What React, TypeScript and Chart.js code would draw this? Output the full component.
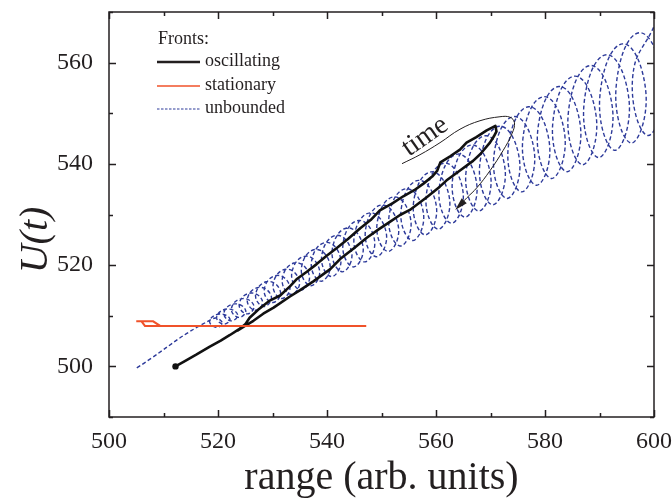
import React, { useEffect, useRef } from 'react';
import { Chart, registerables } from 'chart.js';

Chart.register(...registerables);

const FONT = "'Liberation Serif', 'Times New Roman', Times, serif";
const INK = '#231f20';
const BLUE = '#2d3a9a';
const ORANGE = '#f0522a';

// axis ticks
const xMajorTicks = [500, 520, 540, 560, 580, 600];
const xMinorTicks = [510, 530, 550, 570, 590];
const yMajorTicks = [500, 520, 540, 560];
const yMinorTicks = [490, 510, 530, 550, 570];

const xTitle = 'range (arb. units)';
const yTitle = 'U(t)';
const legendTitle = 'Fronts:';
const seriesNames = ['oscillating', 'stationary', 'unbounded'];
const timeText = 'time';
const timeAt = [558.0, 545.4];

// oscillating front (black)
const oscX = [512.2, 514.0, 516.0, 518.5, 520.5, 522.2, 523.8, 525.0, 525.8, 527.6, 529.5, 531.4, 533.2, 534.4, 536.3, 538.1, 540.0, 541.8, 543.9, 546.1, 548.0, 549.7, 552.0, 554.0, 556.0, 557.7, 559.3, 560.2, 560.8, 562.6, 564.4, 565.6, 567.4, 569.3, 570.9, 571.1, 570.6, 569.9, 568.1, 566.8, 564.4, 561.9, 560.7, 558.3, 555.2, 553.4, 551.6, 549.4, 547.3, 545.0, 542.4, 540.6, 537.5, 535.0, 533.2, 530.2, 528.3, 526.5, 524.8, 523.5];
const oscY = [500.0, 501.1, 502.3, 503.9, 505.1, 506.2, 507.3, 508.3, 509.6, 511.4, 513.0, 514.0, 515.8, 517.2, 518.7, 520.2, 521.9, 523.4, 525.2, 527.3, 528.9, 530.8, 532.2, 533.6, 534.8, 536.1, 537.5, 538.6, 540.3, 541.5, 542.8, 544.2, 545.3, 546.6, 547.5, 546.4, 545.4, 544.2, 541.9, 540.6, 538.7, 536.7, 535.5, 533.4, 530.9, 529.9, 528.6, 527.0, 525.4, 523.4, 521.2, 519.2, 516.8, 515.0, 513.8, 511.6, 510.4, 509.0, 507.9, 507.0];

// stationary front (orange)
const statX = [505.0, 508.1, 509.4, 547.2, 547.2, 506.0, 506.6, 509.4];
const statY = [508.9, 508.9, 508.0, 508.0, null, 508.85, 508.0, 508.0];

// unbounded front (blue dashed): per loop top, right, bottom, left
const unbX = [505.1,
  519.00, 520.82, 519.65, 518.48,
  520.30, 522.19, 520.98, 519.76,
  521.65, 523.61, 522.35, 521.09,
  523.05, 525.08, 523.78, 522.47,
  524.50, 526.60, 525.25, 523.90,
  526.00, 528.17, 526.78, 525.38,
  527.55, 529.79, 528.35, 526.91,
  529.15, 531.46, 529.98, 528.49,
  530.80, 533.18, 531.65, 530.12,
  532.50, 534.95, 533.38, 531.80,
  534.25, 536.77, 535.15, 533.53,
  536.05, 538.64, 536.98, 535.31,
  537.90, 540.56, 538.85, 537.14,
  539.80, 542.53, 540.78, 539.02,
  541.75, 544.55, 542.75, 540.95,
  543.75, 546.62, 544.78, 542.93,
  545.80, 548.74, 546.85, 544.96,
  547.90, 550.91, 548.98, 547.04,
  550.05, 553.13, 551.15, 549.17,
  552.25, 555.40, 553.38, 551.35,
  554.50, 557.72, 555.65, 553.58,
  556.80, 560.09, 557.98, 555.86,
  559.15, 562.51, 560.35, 558.19,
  561.55, 564.98, 562.78, 560.57,
  564.00, 567.50, 565.25, 563.00,
  566.50, 570.07, 567.78, 565.48,
  569.05, 572.69, 570.35, 568.01,
  571.65, 575.36, 572.98, 570.59,
  574.30, 578.08, 575.65, 573.22,
  577.00, 580.85, 578.38, 575.90,
  579.75, 583.67, 581.15, 578.63,
  582.55, 586.54, 583.98, 581.41,
  585.40, 589.46, 586.85, 584.24,
  588.30, 592.43, 589.78, 587.12,
  591.25, 595.45, 592.75, 590.05,
  594.25, 598.52, 595.78, 593.03,
  597.30, 601.64, 598.85, 596.06,
  600.40];
const unbY = [499.7,
  509.40, 508.60, 507.71, 508.99,
  510.34, 509.38, 508.34, 509.79,
  511.32, 510.20, 508.99, 510.62,
  512.34, 511.05, 509.67, 511.48,
  513.39, 511.93, 510.37, 512.38,
  514.48, 512.83, 511.09, 513.30,
  515.60, 513.77, 511.84, 514.25,
  516.76, 514.74, 512.61, 515.23,
  517.96, 515.74, 513.41, 516.25,
  519.19, 516.76, 514.23, 517.29,
  520.46, 517.82, 515.07, 518.36,
  521.76, 518.91, 515.94, 519.46,
  523.10, 520.03, 516.83, 520.60,
  524.48, 521.17, 517.74, 521.76,
  525.89, 522.35, 518.68, 522.95,
  527.34, 523.56, 519.65, 524.17,
  528.82, 524.80, 520.64, 525.43,
  530.33, 526.06, 521.66, 526.71,
  531.88, 527.36, 522.71, 528.02,
  533.47, 528.69, 523.78, 529.36,
  535.09, 530.05, 524.87, 530.74,
  536.74, 531.43, 525.98, 532.14,
  538.43, 532.85, 527.12, 533.57,
  540.16, 534.30, 528.29, 535.03,
  541.93, 535.78, 529.48, 536.53,
  543.73, 537.28, 530.69, 538.05,
  545.56, 538.82, 531.92, 539.60,
  547.43, 540.39, 533.18, 541.18,
  549.34, 541.99, 534.47, 542.80,
  551.29, 543.61, 535.78, 544.44,
  553.27, 545.27, 537.11, 546.11,
  555.28, 546.96, 538.46, 547.81,
  557.33, 548.68, 539.84, 549.55,
  559.42, 550.42, 541.25, 551.31,
  561.55, 552.20, 542.68, 553.10,
  563.71, 554.01, 544.13, 554.92,
  565.90, 555.85, 545.60, 556.78,
  568.13];

// "time" arrow arc (annotation)
const arcX = [553.76, 557.06, 560.73, 564.40, 568.07, 571.74, 573.58, 574.40, 573.94, 572.29, 569.91, 567.52, 565.69, 563.9];
const arcY = [540.04, 541.81, 544.18, 546.84, 548.52, 549.31, 549.21, 548.13, 545.96, 542.60, 538.66, 535.31, 533.33, 531.3];

const toPts = (xs: number[], ys: (number | null)[]) => xs.map((x, i) => ({ x, y: ys[i] }));

const decorPlugin = {
  id: 'decor',
  afterDatasetsDraw(chart: any) {
    const { ctx, scales } = chart;
    const xs = scales.x, ys = scales.y;
    const n = arcX.length;
    const px = xs.getPixelForValue(arcX[n - 1]);
    const py = ys.getPixelForValue(arcY[n - 1]);
    const qx = xs.getPixelForValue(arcX[n - 3]);
    const qy = ys.getPixelForValue(arcY[n - 3]);
    const ang = Math.atan2(py - qy, px - qx);
    ctx.save();
    ctx.fillStyle = INK;
    ctx.translate(px, py);
    ctx.rotate(ang);
    ctx.beginPath();
    ctx.moveTo(3, 0);
    ctx.lineTo(-10, -3.5);
    ctx.lineTo(-10, 3.5);
    ctx.closePath();
    ctx.fill();
    ctx.restore();
    ctx.save();
    ctx.translate(xs.getPixelForValue(timeAt[0]), ys.getPixelForValue(timeAt[1]));
    ctx.rotate(-35 * Math.PI / 180);
    ctx.font = `28px ${FONT}`;
    ctx.fillStyle = INK;
    ctx.textAlign = 'center';
    ctx.textBaseline = 'middle';
    ctx.fillText(timeText, 0, 0);
    ctx.restore();
  },
  afterDraw(chart: any) {
    const { ctx, chartArea: a, scales } = chart;
    const xs = scales.x, ys = scales.y;
    ctx.save();
    ctx.strokeStyle = INK;
    ctx.lineWidth = 1.5;
    ctx.strokeRect(a.left, a.top, a.right - a.left, a.bottom - a.top);
    ctx.beginPath();
    const tx = (v: number, len: number) => {
      const p = Math.round(xs.getPixelForValue(v)) + 0.5;
      ctx.moveTo(p, a.bottom); ctx.lineTo(p, a.bottom - len);
      ctx.moveTo(p, a.top); ctx.lineTo(p, a.top + len);
    };
    const ty = (v: number, len: number) => {
      const p = Math.round(ys.getPixelForValue(v)) + 0.5;
      ctx.moveTo(a.left, p); ctx.lineTo(a.left + len, p);
      ctx.moveTo(a.right, p); ctx.lineTo(a.right - len, p);
    };
    xMajorTicks.forEach(v => tx(v, 7));
    xMinorTicks.forEach(v => tx(v, 4));
    yMajorTicks.forEach(v => ty(v, 7));
    yMinorTicks.forEach(v => ty(v, 4));
    ctx.stroke();

    ctx.fillStyle = INK;
    ctx.textAlign = 'center';
    ctx.textBaseline = 'middle';
    ctx.font = `40px ${FONT}`;
    ctx.fillText(xTitle, (a.left + a.right) / 2, 478);
    ctx.save();
    ctx.translate(36, 240);
    ctx.rotate(-Math.PI / 2);
    ctx.font = `italic 40px ${FONT}`;
    ctx.fillText(yTitle, 0, 0);
    ctx.restore();

    const lx = a.left + 48;
    ctx.textAlign = 'left';
    ctx.font = `18px ${FONT}`;
    ctx.fillText(legendTitle, lx + 1, a.top + 27);
    const rows = [a.top + 50, a.top + 74, a.top + 97];
    const styles = [
      { c: INK, w: 2.5, d: [] as number[] },
      { c: ORANGE, w: 1.5, d: [] as number[] },
      { c: BLUE, w: 1.2, d: [2.5, 1.5] },
    ];
    rows.forEach((ry, i) => {
      ctx.beginPath();
      ctx.strokeStyle = styles[i].c;
      ctx.lineWidth = styles[i].w;
      ctx.setLineDash(styles[i].d);
      ctx.moveTo(lx, ry); ctx.lineTo(lx + 43, ry);
      ctx.stroke();
      ctx.setLineDash([]);
      ctx.fillStyle = INK;
      ctx.fillText(seriesNames[i], lx + 48, ry - 1);
    });
    ctx.restore();
  },
};

export default function App() {
  const ref = useRef<HTMLCanvasElement | null>(null);
  useEffect(() => {
    if (!ref.current) return;
    const chart = new Chart(ref.current, {
      type: 'line',
      data: {
        datasets: [
          {
            label: 'arc', data: toPts(arcX, arcY), borderColor: INK, borderWidth: 1,
            tension: 0.4, pointRadius: 0, fill: false,
          },
          {
            label: seriesNames[1], data: toPts(statX, statY), borderColor: ORANGE, borderWidth: 2,
            tension: 0, pointRadius: 0, fill: false, spanGaps: false,
          },
          {
            label: seriesNames[0], data: toPts(oscX, oscY), borderColor: '#111', borderWidth: 2.6,
            tension: 0, fill: false, borderJoinStyle: 'round',
            pointRadius: (c: any) => (c.dataIndex === 0 ? 3.2 : 0),
            pointBackgroundColor: '#111', pointBorderWidth: 0,
          },
          {
            label: seriesNames[2], data: toPts(unbX, unbY), borderColor: BLUE, borderWidth: 1.4,
            borderDash: [4, 2.5], tension: 0.5, pointRadius: 0, fill: false,
          },
        ],
      } as any,
      options: {
        animation: false,
        responsive: false,
        events: [],
        layout: { padding: { left: 0, right: 18, top: 12, bottom: 0 } },
        plugins: { legend: { display: false }, tooltip: { enabled: false } },
        scales: {
          x: {
            type: 'linear', min: 500, max: 600,
            grid: { display: false, drawTicks: false }, border: { display: false },
            afterBuildTicks: (s: any) => { s.ticks = xMajorTicks.map(v => ({ value: v })); },
            afterFit: (s: any) => { s.height = 81; s.paddingLeft = 0; s.paddingRight = 0; },
            ticks: { color: INK, font: { family: FONT, size: 24 }, padding: 10, maxRotation: 0, autoSkip: false, callback: (v: any) => String(v) },
          },
          y: {
            type: 'linear', min: 490, max: 570,
            grid: { display: false, drawTicks: false }, border: { display: false },
            afterBuildTicks: (s: any) => { s.ticks = yMajorTicks.map(v => ({ value: v })); },
            afterFit: (s: any) => { s.width = 109; s.paddingTop = 0; s.paddingBottom = 0; },
            ticks: { color: INK, font: { family: FONT, size: 24 }, padding: 16, autoSkip: false, callback: (v: any) => String(v) },
          },
        },
      } as any,
      plugins: [decorPlugin],
    });
    return () => chart.destroy();
  }, []);
  return (
    <div style={{ position: 'absolute', left: 0, top: 0, width: 672, height: 498, background: '#fff' }}>
      <canvas ref={ref} width={672} height={498} style={{ display: 'block' }} />
    </div>
  );
}
